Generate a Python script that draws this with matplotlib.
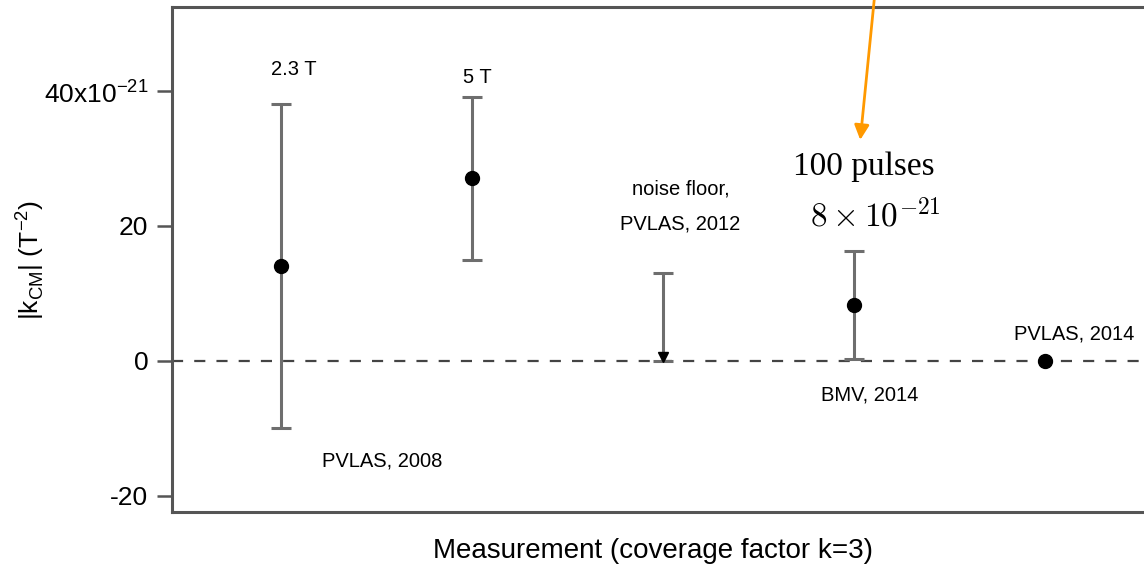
import matplotlib.pyplot as plt
import numpy as np
from matplotlib.ticker import FuncFormatter

plt.rcParams['font.family'] = ['Liberation Sans', 'DejaVu Sans']

# measurements in units of 1e-21 T^-2
meas_x = [1, 2, 4]
meas_y = [14, 27, 8.3]
meas_err = [24, 12, 8]
# latest result sits on zero
pvlas14_x = 5
pvlas14_y = 0
# noise floor is only an upper limit
limit_x = 3
limit_top = 13

field_labels = ['2.3 T', '5 T']
yticks = [-20, 0, 20, 40]

fig = plt.figure(figsize=(11.44, 5.73), dpi=100)
ax = fig.add_axes([172/1144, 61/573, (1160-172)/1144, (512-7)/573])

ax.axhline(0, color='#444444', lw=1.6, ls=(0, (5, 5)), zorder=1)

grey = '#6e6e6e'
ax.errorbar(meas_x, meas_y, yerr=meas_err, fmt='o', color='black',
            ms=10, ecolor=grey, elinewidth=2.2, capsize=7, capthick=2.2, zorder=3)
ax.errorbar([limit_x], [limit_top], yerr=[[limit_top], [0]], fmt='none',
            ecolor=grey, elinewidth=2.2, capsize=7, capthick=2.2, zorder=2)
ax.plot([limit_x], [0.6], marker='v', color='black', ms=7, zorder=3)
ax.plot([pvlas14_x], [pvlas14_y], 'o', color='black', ms=10, zorder=3)

ax.set_xlim(0.43, 5.6)
ax.set_ylim(-22.4, 52.4)
ax.set_xticks([])
ax.set_yticks(yticks)
ax.yaxis.set_major_formatter(FuncFormatter(
    lambda v, p: r'40x10$^{\mathregular{-21}}$' if v == 40 else '%d' % v))
ax.tick_params(axis='y', direction='out', length=11, width=1.8, color='#555555',
               labelsize=19, pad=6)
for s in ['left', 'bottom', 'top', 'right']:
    ax.spines[s].set_color('#555555')
    ax.spines[s].set_linewidth(2.2)

ax.set_ylabel(r'|k$_{\mathregular{CM}}$| (T$^{\mathregular{-2}}$)', fontsize=19)
ax.yaxis.set_label_coords(-0.128, 0.5)
ax.set_xlabel('Measurement (coverage factor k=3)', fontsize=20)
ax.xaxis.set_label_coords(0.487, -0.052)

small = 14.5
ax.text(1.07, 41.8, field_labels[0], ha='center', va='bottom', fontsize=small)
ax.text(2.03, 40.6, field_labels[1], ha='center', va='bottom', fontsize=small)
ax.text(1.53, -14.8, 'PVLAS, 2008', ha='center', va='center', fontsize=small)
ax.text(3.09, 25.5, 'noise floor,', ha='center', va='center', fontsize=small)
ax.text(3.09, 20.3, 'PVLAS, 2012', ha='center', va='center', fontsize=small)
ax.text(4.08, -5, 'BMV, 2014', ha='center', va='center', fontsize=small)
ax.text(5.15, 3.9, 'PVLAS, 2014', ha='center', va='center', fontsize=small)

ax.text(4.05, 28.7, '100 pulses', ha='center', va='center', fontsize=24,
        family='Liberation Serif')
ax.text(4.11, 21.4, r'$8 \times 10^{-21}$', ha='center', va='center', fontsize=24,
        math_fontfamily='cm')

ax.annotate('', xy=(4.03, 32.3), xytext=(4.11, 55), annotation_clip=False,
            arrowprops=dict(arrowstyle='-|>', color='#ff9900', lw=2,
                            mutation_scale=22))

plt.savefig('out.png')
